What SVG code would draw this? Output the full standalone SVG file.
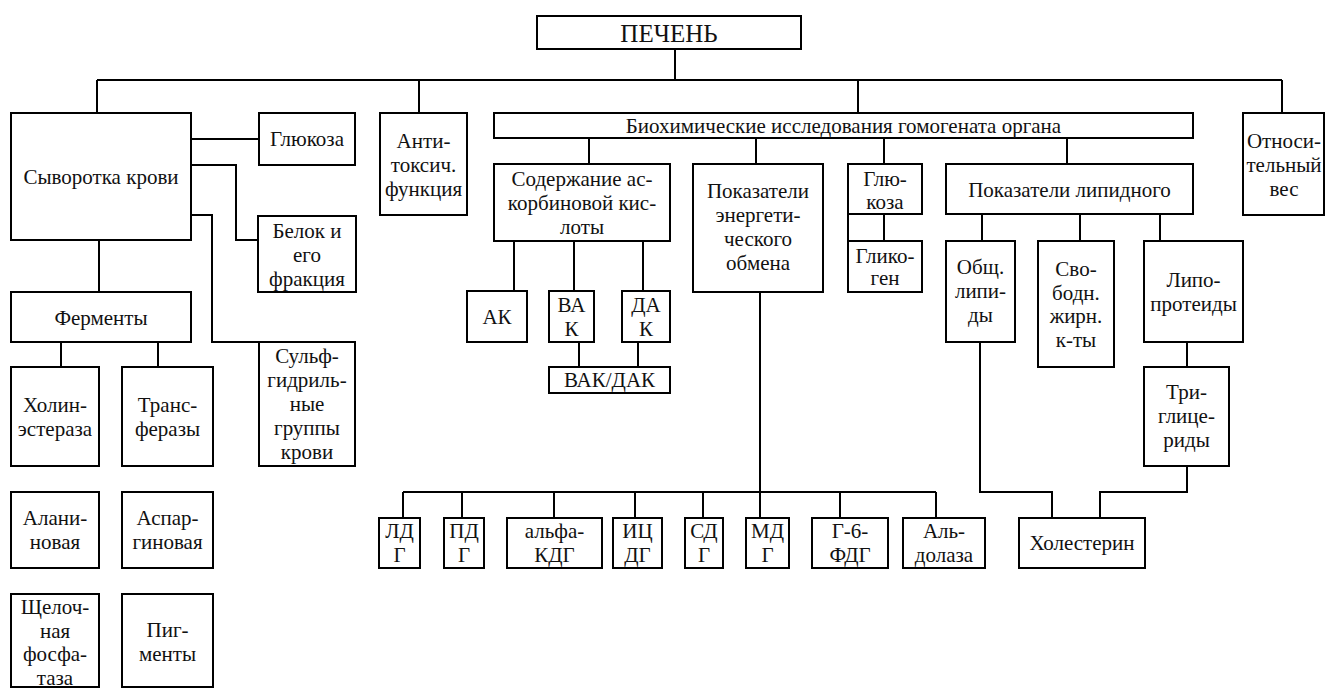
<svg xmlns="http://www.w3.org/2000/svg" width="1327" height="688" viewBox="0 0 1327 688">
<style>
rect{fill:#fff;stroke:#000;stroke-width:2}
path{fill:none;stroke:#000;stroke-width:2}
text{font-family:'Liberation Serif','DejaVu Serif',serif;font-size:21px;fill:#111;text-anchor:middle}
.big{font-size:25px}
</style>
<rect x="0" y="0" width="1327" height="688" style="fill:#fff;stroke:none"/>
<g id="connectors">
<path d="M675 49V80M97 80H1282M97 80V113M419 80V113M858 80V113M1282 80V113"/>
<path d="M191 139H259M191 165H236V240H258M191 215H212V342H259"/>
<path d="M99 240V292M61 342V367M158 342V367"/>
<path d="M589 138V164M756 138V164M884 138V164M1067 138V164"/>
<path d="M884 214V241M848 214V241"/>
<path d="M514 241V291M574 241V291M643 241V291M579 342V367M638 342V367"/>
<path d="M760 292V518M403 492H936M403 492V518M462 492V518M554 492V518M635 492V518M703 492V518M840 492V518M936 492V518"/>
<path d="M982 214V241M1080 214V241M1160 214V241M1187 342V367"/>
<path d="M980 342V492H1052V518M1187 466V492H1100V518"/>
</g>
<g font-family="Liberation Serif, serif">
<g id="pechen"><rect x="537" y="16" width="264" height="33"/><text class="big" x="669" y="42">ПЕЧЕНЬ</text></g>
<g id="syvorotka"><rect x="11" y="113" width="180" height="127"/><text x="101" y="184">Сыворотка крови</text></g>
<g id="glukoza1"><rect x="259" y="113" width="96" height="52"/><text x="307" y="146">Глюкоза</text></g>
<g id="belok"><rect x="258" y="216" width="98" height="76"/><text x="307" y="238">Белок и<tspan x="307" dy="24">его</tspan><tspan x="307" dy="24">фракция</tspan></text></g>
<g id="sulf"><rect x="259" y="342" width="96" height="124"/><text x="307" y="363">Сульф-<tspan x="307" dy="24">гидриль-</tspan><tspan x="307" dy="24">ные</tspan><tspan x="307" dy="24">группы</tspan><tspan x="307" dy="24">крови</tspan></text></g>
<g id="fermenty"><rect x="11" y="292" width="180" height="50"/><text x="101" y="325">Ферменты</text></g>
<g id="kholin"><rect x="11" y="367" width="88" height="99"/><text x="55" y="412">Холин-<tspan x="55" dy="24">эстераза</tspan></text></g>
<g id="trans"><rect x="122" y="367" width="91" height="99"/><text x="167.5" y="412">Транс-<tspan x="167.5" dy="24">феразы</tspan></text></g>
<g id="alanin"><rect x="11" y="492" width="88" height="76"/><text x="55" y="525">Алани-<tspan x="55" dy="24">новая</tspan></text></g>
<g id="aspar"><rect x="122" y="492" width="91" height="76"/><text x="167.5" y="525">Аспар-<tspan x="167.5" dy="24">гиновая</tspan></text></g>
<g id="shchel"><rect x="11" y="594" width="88" height="93"/><text x="55" y="614">Щелоч-<tspan x="55" dy="23.5">ная</tspan><tspan x="55" dy="23.5">фосфа-</tspan><tspan x="55" dy="23.5">таза</tspan></text></g>
<g id="pigmenty"><rect x="122" y="594" width="91" height="93"/><text x="167.5" y="637">Пиг-<tspan x="167.5" dy="24">менты</tspan></text></g>
<g id="antitox"><rect x="380" y="113" width="87" height="102"/><text x="423.5" y="148">Анти-<tspan x="423.5" dy="24">токсич.</tspan><tspan x="423.5" dy="24">функция</tspan></text></g>
<g id="biokhim"><rect x="494" y="113" width="699" height="25"/><text x="843.5" y="133">Биохимические исследования гомогената органа</text></g>
<g id="otnos"><rect x="1243" y="113" width="81" height="102"/><text x="1284" y="148">Относи-<tspan x="1284" dy="24">тельный</tspan><tspan x="1284" dy="24">вес</tspan></text></g>
<g id="soderzh"><rect x="494" y="164" width="176" height="77"/><text x="582" y="186">Содержание ас-<tspan x="582" dy="24">корбиновой кис-</tspan><tspan x="582" dy="24">лоты</tspan></text></g>
<g id="ak"><rect x="467" y="291" width="60" height="51"/><text x="497" y="324">АК</text></g>
<g id="vak"><rect x="549" y="291" width="45" height="51"/><text x="571.5" y="312">ВА<tspan x="571.5" dy="24">К</tspan></text></g>
<g id="dak"><rect x="622" y="291" width="48" height="51"/><text x="646" y="312">ДА<tspan x="646" dy="24">К</tspan></text></g>
<g id="vakdak"><rect x="549" y="367" width="121" height="26"/><text x="609.5" y="387">ВАК/ДАК</text></g>
<g id="energ"><rect x="693" y="164" width="130" height="128"/><text x="758" y="198">Показатели<tspan x="758" dy="24">энергети-</tspan><tspan x="758" dy="24">ческого</tspan><tspan x="758" dy="24">обмена</tspan></text></g>
<g id="glukoza2"><rect x="848" y="164" width="74" height="50"/><text x="885" y="186">Глю-<tspan x="885" dy="23">коза</tspan></text></g>
<g id="glikogen"><rect x="848" y="241" width="74" height="51"/><text x="885" y="263">Глико-<tspan x="885" dy="22">ген</tspan></text></g>
<g id="lipid"><rect x="946" y="164" width="247" height="50"/><text x="1069.5" y="197">Показатели липидного</text></g>
<g id="obshch"><rect x="946" y="241" width="69" height="101"/><text x="980.5" y="274">Общ.<tspan x="980.5" dy="24">липи-</tspan><tspan x="980.5" dy="24">ды</tspan></text></g>
<g id="svobodn"><rect x="1038" y="241" width="76" height="126"/><text x="1076" y="276">Сво-<tspan x="1076" dy="23.5">бодн.</tspan><tspan x="1076" dy="23.5">жирн.</tspan><tspan x="1076" dy="23.5">к-ты</tspan></text></g>
<g id="lipoprot"><rect x="1144" y="241" width="99" height="101"/><text x="1193.5" y="287">Липо-<tspan x="1193.5" dy="24">протеиды</tspan></text></g>
<g id="triglic"><rect x="1144" y="367" width="85" height="99"/><text x="1186.5" y="399">Три-<tspan x="1186.5" dy="24">глице-</tspan><tspan x="1186.5" dy="24">риды</tspan></text></g>
<g id="kholest"><rect x="1019" y="518" width="126" height="50"/><text x="1082" y="550">Холестерин</text></g>
<g id="ldg"><rect x="379" y="518" width="41" height="50"/><text x="399.5" y="538">ЛД<tspan x="399.5" dy="24">Г</tspan></text></g>
<g id="pdg"><rect x="444" y="518" width="40" height="50"/><text x="464" y="538">ПД<tspan x="464" dy="24">Г</tspan></text></g>
<g id="alfakdg"><rect x="507" y="518" width="95" height="50"/><text x="554.5" y="538">альфа-<tspan x="554.5" dy="24">КДГ</tspan></text></g>
<g id="icdg"><rect x="613" y="518" width="49" height="50"/><text x="637.5" y="538">ИЦ<tspan x="637.5" dy="24">ДГ</tspan></text></g>
<g id="sdg"><rect x="685" y="518" width="38" height="50"/><text x="704" y="538">СД<tspan x="704" dy="24">Г</tspan></text></g>
<g id="mdg"><rect x="746" y="518" width="43" height="50"/><text x="767.5" y="538">МД<tspan x="767.5" dy="24">Г</tspan></text></g>
<g id="g6fdg"><rect x="812" y="518" width="76" height="50"/><text x="850" y="538">Г-6-<tspan x="850" dy="24">ФДГ</tspan></text></g>
<g id="aldolaza"><rect x="903" y="518" width="82" height="50"/><text x="944" y="538">Аль-<tspan x="944" dy="24">долаза</tspan></text></g>
</g>
</svg>
